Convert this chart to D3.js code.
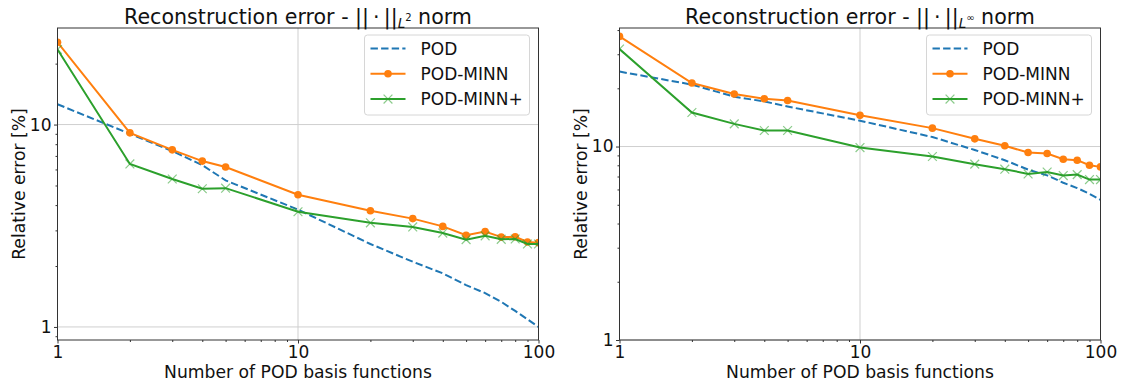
<!DOCTYPE html>
<html>
<head>
<meta charset="utf-8">
<script src="https://cdn.jsdelivr.net/npm/d3@7"></script>
<style>
  body { margin: 0; background: #fff; }
  svg { display: block; font-family: "DejaVu Sans", sans-serif; }
</style>
</head>
<body>
<svg id="chart"></svg>
<script>
// number of POD basis functions (x values, shared by both panels)
const nBasis = [1, 2, 3, 4, 5, 10, 20, 30, 40, 50, 60, 70, 80, 90, 100];

// L2 norm relative error [%]
const l2Pod       = [12.6, 9.0, 7.4, 6.3, 5.3, 3.8, 2.57, 2.1, 1.84, 1.61, 1.47, 1.33, 1.2, 1.09, 1.0];
const l2Minn      = [25.5, 9.1, 7.5, 6.6, 6.17, 4.5, 3.75, 3.43, 3.14, 2.84, 2.96, 2.78, 2.79, 2.63, 2.61];
const l2MinnPlus  = [23.5, 6.39, 5.38, 4.82, 4.85, 3.71, 3.27, 3.12, 2.91, 2.70, 2.82, 2.71, 2.72, 2.57, 2.57];

// Linf norm relative error [%]
const linfPod      = [24.4, 20.9, 18.1, 17.1, 16.1, 13.6, 11.2, 9.6, 8.5, 7.6, 7.1, 6.5, 6.1, 5.7, 5.3];
const linfMinn     = [37.1, 21.3, 18.7, 17.65, 17.3, 14.5, 12.45, 10.96, 10.1, 9.31, 9.2, 8.6, 8.5, 8.0, 7.85];
const linfMinnPlus = [31.9, 15.0, 13.1, 12.1, 12.1, 9.88, 8.88, 8.11, 7.64, 7.22, 7.39, 7.08, 7.16, 6.75, 6.75];

const seriesNames = ["POD", "POD-MINN", "POD-MINN+"];
const xTicks = [1, 10, 100];
const yTicks = [1, 10];

const width = 1124;
const height = 383;
const colors = {"POD": "#1f77b4", "POD-MINN": "#ff7f0e", "POD-MINN+": "#2ca02c"};

const svg = d3.select("#chart")
  .attr("width", width)
  .attr("height", height);

function minorTicks(lo, hi) {
  let out = [];
  for (let p = Math.floor(Math.log10(lo)); p <= Math.ceil(Math.log10(hi)); p++) {
    for (let k = 2; k <= 9; k++) {
      const v = k * Math.pow(10, p);
      if (v > lo && v < hi) out.push(v);
    }
  }
  return out;
}

function drawPanel(opts) {
  const {left, right, top, bottom, yDomain, data, sub, id, titleX, yLabelX} = opts;

  const x = d3.scaleLog().domain([1, 100]).range([left, right]);
  const y = d3.scaleLog().domain(yDomain).range([bottom, top]);

  const g = svg.append("g");

  g.append("clipPath").attr("id", id)
    .append("rect")
    .attr("x", left).attr("y", top)
    .attr("width", right - left).attr("height", bottom - top);

  // grid
  g.append("g").selectAll("line")
    .data(xTicks)
    .join("line")
    .attr("x1", d => x(d)).attr("x2", d => x(d))
    .attr("y1", top).attr("y2", bottom)
    .attr("stroke", "#cfcfcf").attr("stroke-width", 1);
  g.append("g").selectAll("line")
    .data(yTicks.filter(d => d >= yDomain[0] && d <= yDomain[1]))
    .join("line")
    .attr("x1", left).attr("x2", right)
    .attr("y1", d => y(d)).attr("y2", d => y(d))
    .attr("stroke", "#cfcfcf").attr("stroke-width", 1);

  // lines
  const line = d3.line().x(d => x(d.n)).y(d => y(d.v));
  const plot = g.append("g").attr("clip-path", `url(#${id})`);

  data.forEach(s => {
    const pts = nBasis.map((n, i) => ({n: n, v: s.values[i]}));
    plot.append("path")
      .datum(pts)
      .attr("fill", "none")
      .attr("stroke", colors[s.name])
      .attr("stroke-width", 2)
      .attr("stroke-dasharray", s.name === "POD" ? "7.4,3.2" : null)
      .attr("d", line);
    if (s.name === "POD-MINN") {
      plot.append("g").selectAll("circle")
        .data(pts)
        .join("circle")
        .attr("cx", d => x(d.n)).attr("cy", d => y(d.v))
        .attr("r", 3.8)
        .attr("fill", colors[s.name]);
    }
    if (s.name === "POD-MINN+") {
      plot.append("g").selectAll("path")
        .data(pts)
        .join("path")
        .attr("d", d => {
          const cx = x(d.n), cy = y(d.v), r = 4.4;
          return `M${cx - r},${cy - r}L${cx + r},${cy + r}M${cx - r},${cy + r}L${cx + r},${cy - r}`;
        })
        .attr("stroke", "#2ca02c")
        .attr("stroke-opacity", 0.55)
        .attr("stroke-width", 1.2)
        .attr("fill", "none");
    }
  });

  // axes
  const xAxis = g.append("g")
    .attr("transform", `translate(0,${bottom})`)
    .call(d3.axisBottom(x).tickValues(xTicks).tickFormat(d3.format("d")).tickSize(3.5).tickSizeOuter(0));
  g.append("g")
    .attr("transform", `translate(0,${bottom})`)
    .call(d3.axisBottom(x).tickValues(minorTicks(1, 100)).tickFormat("").tickSize(2).tickSizeOuter(0))
    .call(a => a.select(".domain").remove());

  const yAxis = g.append("g")
    .attr("transform", `translate(${left},0)`)
    .call(d3.axisLeft(y).tickValues(yTicks.filter(d => d >= yDomain[0] && d <= yDomain[1]))
      .tickFormat(d3.format("d")).tickSize(3.5).tickSizeOuter(0));
  g.append("g")
    .attr("transform", `translate(${left},0)`)
    .call(d3.axisLeft(y).tickValues(minorTicks(yDomain[0], yDomain[1])).tickFormat("").tickSize(2).tickSizeOuter(0))
    .call(a => a.select(".domain").remove());

  [xAxis, yAxis].forEach(a => {
    a.select(".domain").remove();
    a.selectAll("text").attr("font-size", 17).attr("fill", "#111").attr("font-family", "DejaVu Sans");
  });
  g.selectAll(".tick line").attr("stroke", "#333");
  xAxis.selectAll("text").attr("dy", "0.72em").attr("y", 6);
  yAxis.selectAll("text").attr("x", -6);

  // frame
  g.append("rect")
    .attr("x", left).attr("y", top)
    .attr("width", right - left).attr("height", bottom - top)
    .attr("fill", "none").attr("stroke", "#333").attr("stroke-width", 1);

  // title with math
  const t = g.append("text")
    .attr("x", titleX).attr("y", 24)
    .attr("text-anchor", "middle")
    .attr("font-size", 20.6)
    .attr("fill", "#111");
  t.append("tspan").text("Reconstruction error - ||\u2009\u00b7\u2009||");
  t.append("tspan").attr("font-style", "italic").attr("font-size", 13.5).attr("dy", 4).text("L");
  t.append("tspan").attr("font-size", 10).attr("dy", -7).text(sub);
  t.append("tspan").attr("dy", 3).text(" norm");

  // axis labels
  g.append("text")
    .attr("x", (left + right) / 2).attr("y", 378)
    .attr("text-anchor", "middle")
    .attr("font-size", 17.2).attr("fill", "#111")
    .text("Number of POD basis functions");
  g.append("text")
    .attr("transform", `translate(${yLabelX},${(top + bottom) / 2}) rotate(-90)`)
    .attr("text-anchor", "middle")
    .attr("font-size", 17.2).attr("fill", "#111")
    .text("Relative error [%]");

  // legend
  const lg = g.append("g").attr("transform", `translate(${right - 174},35)`);
  lg.append("rect")
    .attr("width", 165).attr("height", 80)
    .attr("rx", 3)
    .attr("fill", "#fff").attr("fill-opacity", 0.8)
    .attr("stroke", "#d6d6d6");
  seriesNames.forEach((name, i) => {
    const yy = 13.5 + i * 25.3;
    lg.append("line")
      .attr("x1", 6).attr("x2", 41).attr("y1", yy).attr("y2", yy)
      .attr("stroke", colors[name]).attr("stroke-width", 2)
      .attr("stroke-dasharray", name === "POD" ? "7.4,3.2" : null);
    if (name === "POD-MINN") {
      lg.append("circle").attr("cx", 23.5).attr("cy", yy).attr("r", 3.8).attr("fill", colors[name]);
    }
    if (name === "POD-MINN+") {
      const r = 4.4;
      lg.append("path")
        .attr("d", `M${23.5 - r},${yy - r}L${23.5 + r},${yy + r}M${23.5 - r},${yy + r}L${23.5 + r},${yy - r}`)
        .attr("stroke", "#2ca02c").attr("stroke-opacity", 0.55).attr("stroke-width", 1.2);
    }
    lg.append("text")
      .attr("x", 56).attr("y", yy + 6.3)
      .attr("font-size", 17).attr("fill", "#111")
      .text(name);
  });
}

drawPanel({
  id: "clipL", left: 57.5, right: 538.5, top: 28, bottom: 340,
  yDomain: [0.862, 30], sub: "2", titleX: 298, yLabelX: 25,
  data: [
    {name: "POD", values: l2Pod},
    {name: "POD-MINN", values: l2Minn},
    {name: "POD-MINN+", values: l2MinnPlus}
  ]
});

drawPanel({
  id: "clipR", left: 619.5, right: 1100.5, top: 28, bottom: 340,
  yDomain: [1, 41], sub: "\u221e", titleX: 860, yLabelX: 587,
  data: [
    {name: "POD", values: linfPod},
    {name: "POD-MINN", values: linfMinn},
    {name: "POD-MINN+", values: linfMinnPlus}
  ]
});
</script>
</body>
</html>
